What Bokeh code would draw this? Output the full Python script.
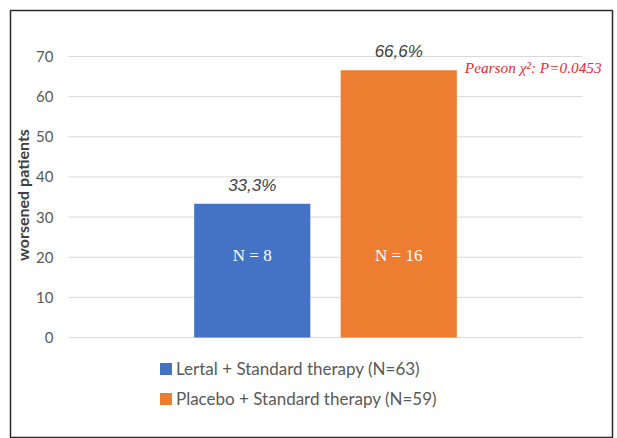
import math
from bokeh.plotting import figure
from bokeh.models import ColumnDataSource, Range1d, Legend, LegendItem
from bokeh.core.properties import value
from bokeh.embed import file_html
from bokeh.resources import INLINE

# ---- data ----
series = ["Lertal + Standard therapy", "Placebo + Standard therapy"]
group_n = [63, 59]
worsened_pct = [33.3, 66.6]
worsened_n = [8, 16]
colors = ["#4472C4", "#ED7D31"]
y_ticks = [0, 10, 20, 30, 40, 50, 60, 70]
stat_text = "Pearson \u03c7\u00b2: P=0.0453"
y_label = "worsened patients"

# ---- layout constants (plot area spans x 0..1, y 0..70) ----
CENTER = 0.5
BAR_W = 0.226
OFFS = [-0.1425, 0.1425]
N_LABEL_Y = 20.4
PX_X = 514.0          # pixels per x unit
PX_Y = 281.0 / 70.0   # pixels per y unit

p = figure(width=617, height=438, output_backend="svg", toolbar_location=None,
           x_range=Range1d(-58 / PX_X, 544 / PX_X),
           y_range=Range1d(-101 / PX_Y, 327 / PX_Y),
           x_axis_location=None, y_axis_location=None,
           min_border_left=10, min_border_right=5, min_border_top=10, min_border_bottom=0)
p.outline_line_color = "#2b2b2b"
p.outline_line_width = 1.5
p.background_fill_color = "white"
p.border_fill_color = "white"
p.xgrid.visible = False
p.ygrid.visible = False

# gridlines and tick labels
grid = ColumnDataSource(dict(y=y_ticks, x0=[0] * len(y_ticks), x1=[1] * len(y_ticks),
                             lab=[str(t) for t in y_ticks]))
p.segment(x0="x0", x1="x1", y0="y", y1="y", source=grid, line_color="#d9d9d9", line_width=1)
p.text(x="x0", y="y", text="lab", source=grid, x_offset=-15, text_align="right",
       text_baseline="middle", text_font=value("Lato"), text_font_size="15px",
       text_color="#595959")

# axis title
p.text(x=[0], y=[35], text=[y_label], x_offset=-46, y_offset=-2, angle=math.pi / 2,
       text_align="center", text_baseline="middle", text_font=value("Lato"),
       text_font_style="bold", text_font_size="16px", text_color="#404040")

items = []
for i in range(len(series)):
    src = ColumnDataSource(dict(
        x=[CENTER + OFFS[i]], top=[worsened_pct[i]],
        pct=[f"{worsened_pct[i]:.1f}%".replace(".", ",")],
        nlab=[f"N = {worsened_n[i]}"],
        ny=[N_LABEL_Y],
    ))
    r = p.vbar(x="x", top="top", bottom=0, width=BAR_W, source=src,
               fill_color=colors[i], line_color=None)
    p.text(x="x", y="top", text="pct", source=src,
           text_align="center", text_baseline="bottom", y_offset=-9,
           text_font=value("Liberation Sans"), text_font_style="italic",
           text_font_size="17px", text_color="#404040")
    p.text(x="x", y="ny", text="nlab", source=src,
           text_align="center", text_baseline="middle",
           text_font=value("Liberation Serif"), text_font_size="17px", text_color="white")
    items.append(LegendItem(label=f"{series[i]} (N={group_n[i]})", renderers=[r]))

# statistics annotation right of the placebo bar
p.text(x=[CENTER + OFFS[1] + BAR_W / 2], y=[worsened_pct[1]], text=[stat_text],
       x_offset=8, y_offset=-3, text_baseline="middle",
       text_font=value("Liberation Serif"), text_font_style="italic",
       text_font_size="15.3px", text_color="#E8292F")

legend = Legend(items=items, location=(148, 29), orientation="vertical",
                border_line_color=None, background_fill_alpha=0,
                padding=0, margin=0, spacing=8, label_height=22,
                glyph_width=15, glyph_height=15, label_standoff=3,
                label_text_font="Lato", label_text_font_size="17px",
                label_text_color="#595959")
p.add_layout(legend, "center")

open("out.html", "w").write(file_html(p, INLINE))
